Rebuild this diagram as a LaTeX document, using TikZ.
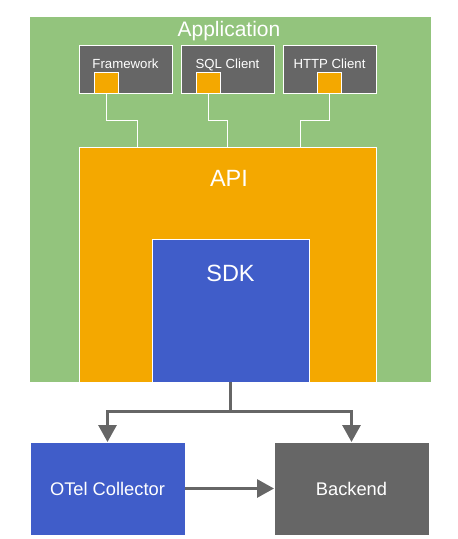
\documentclass[tikz,border=0pt]{standalone}
\usepackage{fontspec}
\setmainfont{Liberation Sans}
\usetikzlibrary{arrows.meta}
\definecolor{appgreen}{HTML}{93C47D}
\definecolor{apiorange}{HTML}{F4A800}
\definecolor{sdkblue}{HTML}{405DC9}
\definecolor{boxgray}{HTML}{666666}
\tikzset{
  box/.style={draw=white, line width=0.8pt, inner sep=0pt, outer sep=0pt},
  lbl/.style={text=white, inner sep=0pt, anchor=base},
  wire/.style={draw=white, line width=0.8pt},
  flow/.style={draw=boxgray, line width=3pt, -{Triangle[width=18pt,length=17pt]}},
}
\begin{document}
\begin{tikzpicture}[x=1pt,y=-1pt]
\useasboundingbox (0,0) rectangle (458,539);
% application
\path[box, fill=appgreen] (29,16) rectangle (431,382);
\node[lbl, font=\fontsize{21}{24}\selectfont] (applbl) at (229,36) {Application};
% components
\path[box, fill=boxgray] (79,45) rectangle (172,93);
\path[box, fill=boxgray] (181,45) rectangle (274,93);
\path[box, fill=boxgray] (283,45) rectangle (376,93);
\node[lbl, font=\fontsize{13.2}{15}\selectfont] (fw) at (125.5,68) {Framework};
\node[lbl, font=\fontsize{13.2}{15}\selectfont] (sql) at (227.5,68) {SQL Client};
\node[lbl, font=\fontsize{13.2}{15}\selectfont] (http) at (329.5,68) {HTTP Client};
\node[box, fill=apiorange, minimum width=24pt, minimum height=21pt, anchor=south west] (fwsq) at (94.5,93) {};
\node[box, fill=apiorange, minimum width=24pt, minimum height=21pt, anchor=south west] (sqlsq) at (196,93) {};
\node[box, fill=apiorange, minimum width=24pt, minimum height=21pt, anchor=south west] (httpsq) at (317,93) {};
% API
\node[box, fill=apiorange, minimum width=297pt, minimum height=235pt, anchor=north west] (api) at (79,147) {};
\node[lbl, font=\fontsize{23.5}{27}\selectfont] (apilbl) at (229,186) {API};
% wires
\coordinate (w1) at (137,147);
\coordinate (w2) at (227,147);
\coordinate (w3) at (300,147);
\draw[wire] (fwsq.south) -- ++(0,27) -| (w1);
\draw[wire] (sqlsq.south) -- ++(0,27) -| (w2);
\draw[wire] (httpsq.south) -- ++(0,27) -| (w3);
% SDK
\node[box, fill=sdkblue, minimum width=157pt, minimum height=143pt, anchor=north west] (sdk) at (152,239) {};
\node[lbl, font=\fontsize{23.5}{27}\selectfont] (sdklbl) at (230.5,281) {SDK};
% bottom
\node[box, fill=sdkblue, minimum width=155pt, minimum height=93pt, anchor=north west] (otel) at (30,442) {};
\node[lbl, font=\fontsize{18.3}{22}\selectfont] at (107.5,495) {OTel Collector};
\node[box, fill=boxgray, minimum width=155pt, minimum height=93pt, anchor=north west] (backend) at (274,442) {};
\node[lbl, font=\fontsize{18.3}{22}\selectfont] at (351.5,495) {Backend};
% flows
\coordinate (split) at (230.5,411);
\draw[draw=boxgray, line width=3pt] (sdk.south) -- (split);
\draw[flow] (split) -| (otel.north);
\draw[flow] (split) -| (backend.north);
\draw[flow] (otel.east) -- (backend.west);
\end{tikzpicture}
\end{document}
